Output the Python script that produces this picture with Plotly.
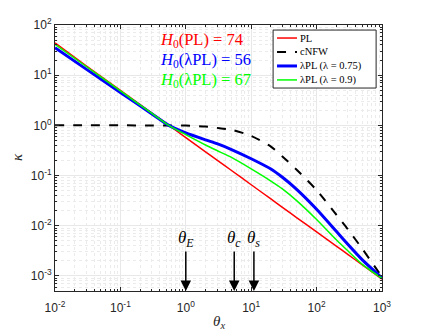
import numpy as np
import plotly.graph_objects as go

# theta_x sample points
theta = [0.01, 0.03, 0.1, 0.3, 0.55, 1, 2, 3, 5, 10, 20, 30, 50, 100, 200, 300, 500, 1000]

# convergence kappa for each model
kappa_pl = [44, 15.4, 4.97, 1.77, 1.0, 0.570, 0.297, 0.203, 0.126, 0.0655, 0.0341, 0.0233,
            0.0144, 0.00752, 0.00392, 0.00268, 0.00166, 0.000863]
kappa_cnfw = [1.0, 1.0, 1.0, 0.998, 0.995, 0.99, 0.944, 0.891, 0.817, 0.617, 0.377, 0.240,
              0.129, 0.0513, 0.0166, 0.00851, 0.00346, 0.000955]
kappa_lpl_075 = [35.4, 13.2, 4.52, 1.71, 1.0, 0.708, 0.514, 0.431, 0.330, 0.216, 0.135, 0.0923,
                 0.0525, 0.0213, 0.00774, 0.00427, 0.00209, 0.000912]
kappa_lpl_09 = [41.3, 14.9, 4.86, 1.75, 1.0, 0.653, 0.406, 0.315, 0.230, 0.136, 0.0778, 0.0543,
                0.0313, 0.0133, 0.00525, 0.00316, 0.0017, 0.000891]

series_names = ["PL", "cNFW", "λPL (λ = 0.75)", "λPL (λ = 0.9)"]
series_data = [kappa_pl, kappa_cnfw, kappa_lpl_075, kappa_lpl_09]
series_color = ["#ff0000", "black", "#0000ff", "#00ff00"]
series_width = [1.5, 2, 3, 1.5]
series_dash = ["solid", "dash", "solid", "solid"]

# H0 labels
h0_text = ["<i>H</i><sub>0</sub>(PL) = 74", "<i>H</i><sub>0</sub>(λPL) = 56", "<i>H</i><sub>0</sub>(λPL) = 67"]
h0_color = ["#ff0000", "#0000ff", "#00ff00"]

# marked scales on the theta axis
mark_label = ["<i>θ<sub>E</sub></i>", "<i>θ<sub>c</sub></i>", "<i>θ<sub>s</sub></i>"]
mark_theta = [1.0, 5.5, 11.0]

tick_vals_x = [0.01, 0.1, 1, 10, 100, 1000]
tick_text_x = ["10<sup>-2</sup>", "10<sup>-1</sup>", "10<sup>0</sup>", "10<sup>1</sup>", "10<sup>2</sup>", "10<sup>3</sup>"]
tick_vals_y = [0.001, 0.01, 0.1, 1, 10, 100]
tick_text_y = ["10<sup>-3</sup>", "10<sup>-2</sup>", "10<sup>-1</sup>", "10<sup>0</sup>", "10<sup>1</sup>", "10<sup>2</sup>"]

serif = "Liberation Serif, Times New Roman, serif"
sans = "Liberation Sans, Arial, sans-serif"

fig = go.Figure()

for name, yv, col, w, d in zip(series_names, series_data, series_color, series_width, series_dash):
    fig.add_trace(go.Scatter(x=theta, y=yv, mode="lines", name=name, showlegend=False,
                             line=dict(color=col, width=w, dash=d, shape="spline", smoothing=0.6)))

# H0 annotations
for i in range(len(h0_text)):
    fig.add_annotation(xref="paper", yref="paper", x=0.315, y=0.945 - 0.075 * i,
                       xanchor="left", yanchor="middle", text=h0_text[i], showarrow=False,
                       font=dict(family=serif, size=16.5, color=h0_color[i]))

# legend box drawn by hand (compact, MATLAB style)
fig.add_shape(type="rect", xref="paper", yref="paper", x0=0.667, x1=0.982, y0=0.763, y1=0.981,
              line=dict(color="#262626", width=1), fillcolor="white", layer="above")
for i in range(len(series_names)):
    ly = 0.951 - 0.0525 * i
    fig.add_shape(type="line", xref="paper", yref="paper", x0=0.679, x1=0.740, y0=ly, y1=ly,
                  line=dict(color=series_color[i], width=series_width[i], dash=series_dash[i]),
                  layer="above")
    fig.add_annotation(xref="paper", yref="paper", x=0.744, y=ly, xanchor="left", yanchor="middle",
                       text=series_names[i], showarrow=False,
                       font=dict(family=serif, size=10.5, color="black"))

# arrows with labels
ymin = np.log10(5e-4)
for lab, th in zip(mark_label, mark_theta):
    fig.add_annotation(x=np.log10(th), y=ymin, xref="x", yref="y", text=lab,
                       showarrow=True, arrowhead=2, arrowsize=1.4, arrowwidth=1.5,
                       arrowcolor="black", ax=0, ay=-52,
                       font=dict(family=serif, size=17, color="black"))

# axis titles
fig.add_annotation(xref="paper", yref="paper", x=0.5, y=-0.117, xanchor="center", yanchor="middle",
                   text="<i>θ<sub>x</sub></i>", showarrow=False,
                   font=dict(family=serif, size=15, color="#262626"))
fig.add_annotation(xref="paper", yref="paper", x=-0.116, y=0.504, xanchor="center", yanchor="middle",
                   text="<i>κ</i>", showarrow=False, textangle=-90,
                   font=dict(family=serif, size=15, color="#262626"))

axis_common = dict(
    type="log", showline=True, linecolor="#262626", linewidth=1, mirror="ticks",
    ticks="inside", ticklen=4, tickcolor="#262626", tickmode="array",
    showgrid=True, gridcolor="#e8e8e8", gridwidth=1, zeroline=False, automargin=False,
    tickfont=dict(family=sans, size=12, color="#262626"),
    minor=dict(ticks="inside", ticklen=2, tickcolor="#262626", showgrid=True,
               gridcolor="#ebebeb", griddash="dot", dtick="D1"),
)

fig.update_xaxes(axis_common, range=[-2, 3], tickvals=tick_vals_x, ticktext=tick_text_x,
                 ticklabelstandoff=6)
fig.update_yaxes(axis_common, range=[ymin, 2], tickvals=tick_vals_y, ticktext=tick_text_y)

fig.update_layout(
    width=423, height=331,
    margin=dict(l=55, r=41, t=25, b=40),
    plot_bgcolor="white", paper_bgcolor="white",
    showlegend=False,
)

# drop the page's default body margin so the figure sits at the window corner
fig.write_html("out.html", config={"displayModeBar": False},
               post_script="document.body.style.margin='0';")
